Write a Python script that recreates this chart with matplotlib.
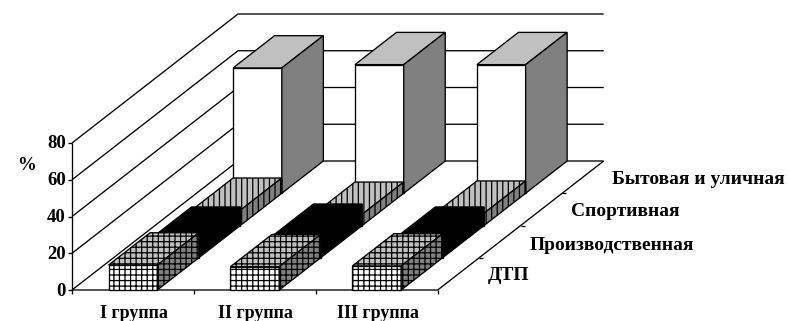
import matplotlib
matplotlib.use("Agg")
import matplotlib.pyplot as plt
from matplotlib.patches import Polygon

groups = ["I группа", "II группа", "III группа"]
depth_labels = ["ДТП", "Производственная", "Спортивная", "Бытовая и уличная"]
y_ticks = [0, 20, 40, 60, 80]

dtp = [13.6, 12.7, 13.1]
proizv = [10.1, 11.7, 10.1]
sport = [8.3, 6.1, 6.7]
byt = [68.2, 70.0, 70.0]
series = [dtp, proizv, sport, byt]

# front, top, side colours and the hatch of each series
styles = [
    ("white", "#c0c0c0", "#808080", "+++"),
    ("black", "black", "black", None),
    ("white", "#c0c0c0", "#808080", "|||"),
    ("white", "#c0c0c0", "#808080", None),
]

X0, Y0 = 72.0, 290.0
GROUP_W = 121.9
DEPTH_DX, DEPTH_DY = 166.0, 129.0
PX_PER_UNIT = 147.0 / 80.0
BAR_W = 0.4


def project(g, d, v):
    # g in group widths, d in 0..1 of the floor depth, v in percent
    return (X0 + g * GROUP_W + d * DEPTH_DX,
            Y0 - d * DEPTH_DY - v * PX_PER_UNIT)


plt.rcParams['font.family'] = ['Liberation Serif', 'DejaVu Serif']
plt.rcParams['font.weight'] = 'bold'
plt.rcParams['hatch.linewidth'] = 0.9

fig = plt.figure(figsize=(7.89, 3.21), dpi=100)
ax = fig.add_axes([0, 0, 1, 1])
ax.set_xlim(0, 789)
ax.set_ylim(321, 0)
ax.axis('off')

line = dict(color='black', lw=0.95, solid_capstyle='butt', zorder=1)

# walls
for v in y_ticks:
    a = project(0, 0, v)
    b = project(0, 1, v)
    c = project(3, 1, v)
    ax.plot([a[0], b[0], c[0]], [a[1], b[1], c[1]], **line)
    ax.plot([a[0] - 4, a[0]], [a[1], a[1]], **line)
    ax.text(a[0] - 6, a[1] + 1, str(v), ha='right', va='center', fontsize=13.5)

a = project(0, 0, 0)
b = project(0, 0, y_ticks[-1])
ax.plot([a[0], b[0]], [a[1], b[1]], **line)

# floor edges
a = project(3, 0, 0)
b = project(3, 1, 0)
ax.plot([X0, a[0], b[0]], [Y0, a[1], b[1]], **line)

for i in range(4):
    p = project(i, 0, 0)
    ax.plot([p[0], p[0]], [p[1], p[1] + 4], **line)

for i, name in enumerate(groups):
    p = project(i + 0.5, 0, 0)
    ax.text(p[0] + 1, 314, name, ha='center', va='center', fontsize=13)

depth_pos = [(488, 276), (529.5, 245), (571, 211), (612.5, 179)]
for i, name in enumerate(depth_labels):
    p = project(3, (i + 1) / 4 - 0.25, 0)
    if i > 0:
        ax.plot([p[0], p[0] + 4], [p[1], p[1]], **line)
    ax.text(depth_pos[i][0], depth_pos[i][1], name, ha='left', va='center', fontsize=14)

ax.text(27, 166, "%", ha='center', va='center', fontsize=13.5)


def face(pts, color, hatch):
    ax.add_patch(Polygon(pts, closed=True, facecolor=color, edgecolor='black',
                         hatch=hatch, lw=0.95, joinstyle='miter', zorder=3))


# bars, back row first
for d in range(3, -1, -1):
    front, top, side, hatch = styles[d]
    d0, d1 = d / 4, (d + 1) / 4
    for g in range(len(groups)):
        v = series[d][g]
        g0, g1 = g + 0.5 - BAR_W / 2, g + 0.5 + BAR_W / 2
        face([project(g0, d0, 0), project(g1, d0, 0), project(g1, d0, v), project(g0, d0, v)], front, hatch)
        face([project(g0, d0, v), project(g1, d0, v), project(g1, d1, v), project(g0, d1, v)], top, hatch)
        face([project(g1, d0, 0), project(g1, d1, 0), project(g1, d1, v), project(g1, d0, v)], side, hatch)

fig.savefig("out.png", dpi=100)
